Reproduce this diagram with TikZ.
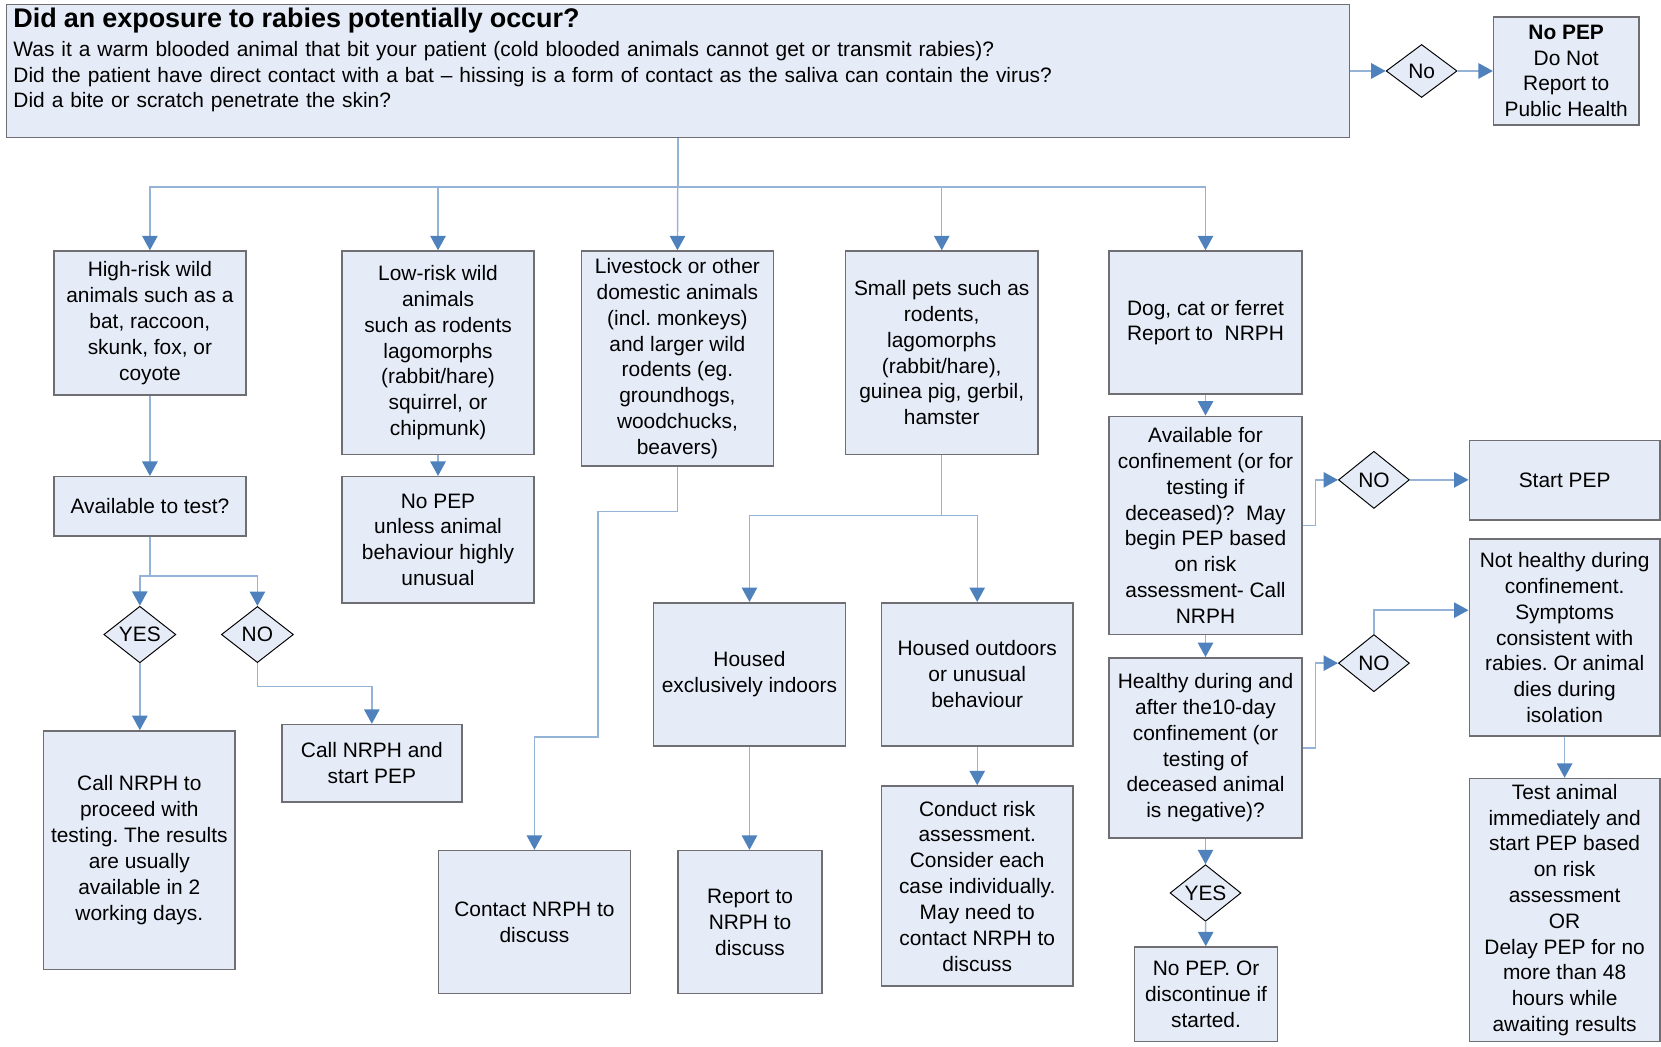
\documentclass[tikz,border=0pt]{standalone}
\usepackage{fontspec}
\setmainfont{Liberation Sans}
\frenchspacing
\usetikzlibrary{shapes.geometric, arrows.meta}
\definecolor{boxfill}{RGB}{230,236,247}
\definecolor{boxline}{RGB}{110,110,115}
\definecolor{linkblue}{RGB}{149,179,215}
\definecolor{tipblue}{RGB}{79,129,189}
\tikzstyle{block} = [rectangle, draw=boxline, line width=0.8pt, fill=boxfill, align=center, inner sep=2pt]
\tikzstyle{decision} = [diamond, draw=black, line width=0.5pt, fill=boxfill, inner sep=0pt, align=center]
\tikzstyle{arrow} = [draw=linkblue, line width=0.75pt, -{Triangle[length=7.5pt,width=8pt,color=tipblue]}]
\tikzset{wh/.style 2 args={minimum width=#1*0.55pt, minimum height=#2*0.55pt}}

\begin{document}
\begin{tikzpicture}
[x=0.55pt, y=-0.55pt, font=\fontsize{10.85pt}{13.4pt}\selectfont]
\useasboundingbox (0,0) rectangle (1568,988);

% question at the top
\node (exposure) [block, wh={1268}{124}, align=left, text width=690pt] at (640,67)
  {{\fontsize{14pt}{16pt}\selectfont\bfseries Did an exposure to rabies potentially occur?}\\[1.5pt]
   Was it a warm blooded animal that bit your patient (cold blooded animals cannot get or transmit rabies)?\\
   Did the patient have direct contact with a bat -- hissing is a form of contact as the saliva can contain the virus?\\
   Did a bite or scratch penetrate the skin?\\ ~};
\node (no) [decision, wh={67}{50}] at (1342,67) {No};
\node (nopep) [block, wh={137}{102}] at (1478.5,67) {\textbf{No PEP}\\Do Not\\Report to\\Public Health};

% animal groups
\node (highrisk) [block, wh={181}{136}] at (141.5,305) {High-risk wild\\animals such as a\\bat, raccoon,\\skunk, fox, or\\coyote};
\node (lowrisk) [block, wh={181}{192}] at (413.5,333) {Low-risk wild\\animals\\such as rodents\\lagomorphs\\(rabbit/hare)\\squirrel, or\\chipmunk)};
\node (livestock) [block, wh={181}{203}] at (639.5,338.5) {Livestock or other\\domestic animals\\(incl. monkeys)\\and larger wild\\rodents (eg.\\groundhogs,\\woodchucks,\\beavers)};
\node (pets) [block, wh={182}{192}] at (889,333) {Small pets such as\\rodents,\\lagomorphs\\(rabbit/hare),\\guinea pig, gerbil,\\hamster};
\node (dog) [block, wh={182}{135}] at (1138,304.5) {Dog, cat or ferret\\Report to\ \ NRPH};

% high-risk branch
\node (test) [block, wh={181}{56}] at (141.5,478) {Available to test?};
\node (yes) [decision, wh={68}{53}] at (132,599) {YES};
\node (notest) [decision, wh={68}{53}] at (243,599) {NO};
\node (proceed) [block, wh={181}{225}] at (131.5,802.5) {Call NRPH to\\proceed with\\testing. The results\\are usually\\available in 2\\working days.};
\node (callpep) [block, wh={170}{73}] at (351,720.5) {Call NRPH and\\start PEP};

% low-risk and livestock
\node (unusual) [block, wh={181}{119}] at (413.5,509.5) {No PEP\\unless animal\\behaviour highly\\unusual};
\node (contact) [block, wh={181}{135}] at (504.5,870.5) {Contact NRPH to\\discuss};

% small pets
\node (indoors) [block, wh={181}{135}] at (707.5,636.5) {Housed\\exclusively indoors};
\node (outdoors) [block, wh={181}{135}] at (922.5,636.5) {Housed outdoors\\or unusual\\behaviour};
\node (report) [block, wh={136}{135}] at (708,870.5) {Report to\\NRPH to\\discuss};
\node (risk) [block, wh={181}{189}] at (922.5,836.5) {Conduct risk\\assessment.\\Consider each\\case individually.\\May need to\\contact NRPH to\\discuss};

% dog, cat or ferret
\node (confine) [block, wh={182}{206}] at (1138,496) {Available for\\confinement (or for\\testing if\\deceased)?\ \ May\\begin PEP based\\on risk\\assessment- Call\\NRPH};
\node (healthy) [block, wh={182}{170}] at (1138,706) {Healthy during and\\after the10-day\\confinement (or\\testing of\\deceased animal\\is negative)?};
\node (noconf) [decision, wh={67}{54}] at (1297,453) {NO};
\node (startpep) [block, wh={180}{75}] at (1477,453.5) {Start PEP};
\node (nohealthy) [decision, wh={67}{54}] at (1297,626) {NO};
\node (sick) [block, wh={180}{186}] at (1477,602) {Not healthy during\\confinement.\\Symptoms\\consistent with\\rabies. Or animal\\dies during\\isolation};
\node (testnow) [block, wh={180}{248}] at (1477,859) {Test animal\\immediately and\\start PEP based\\on risk\\assessment\\OR\\Delay PEP for no\\more than 48\\hours while\\awaiting results};
\node (yeshealthy) [decision, wh={67}{52}] at (1138,843) {YES};
\node (discont) [block, wh={135}{89}] at (1138.5,938.5) {No PEP. Or\\discontinue if\\started.};

\draw [arrow] (exposure) -- (no);
\draw [arrow] (no) -- (nopep);
\draw [arrow] (exposure.south) -- ++(0,46) -| (highrisk.north);
\draw [arrow] (exposure.south) -- ++(0,46) -| (lowrisk.north);
\draw [arrow] (exposure.south) -- (livestock.north);
\draw [arrow] (exposure.south) -- ++(0,46) -| (pets.north);
\draw [arrow] (exposure.south) -- ++(0,46) -| (dog.north);

\draw [arrow] (highrisk) -- (test);
\draw [arrow] (test.south) -- ++(0,37) -| (yes.north);
\draw [arrow] (test.south) -- ++(0,37) -| (notest.north);
\draw [arrow] (yes) -- (yes |- proceed.north);
\draw [arrow] (notest.south) -- ++(0,22) -| (callpep.north);

\draw [arrow] (lowrisk) -- (unusual);
\draw [arrow] (livestock.south) -- ++(0,42) -- ++(-75,0) -- ++(0,213) -| (contact.north);

\draw [arrow] (pets.south) -- ++(0,57) -| (indoors.north);
\draw [arrow] (pets.south) -- ++(0,57) -| (outdoors.north);
\draw [arrow] (indoors) -- (indoors |- report.north);
\draw [arrow] (outdoors) -- (risk);

\draw [arrow] (dog) -- (confine);
\draw [arrow] (confine) -- (healthy);
\draw [arrow] (confine.east) -- ++(12,0) |- (noconf.west);
\draw [arrow] (noconf) -- (noconf -| startpep.west);
\draw [arrow] (healthy.east) -- ++(12,0) |- (nohealthy.west);
\draw [arrow] (nohealthy.north) |- ([yshift=14.3pt]sick.west);
\draw [arrow] (sick) -- (testnow);
\draw [arrow] (healthy) -- (yeshealthy);
\draw [arrow] (yeshealthy) -- (discont);

\end{tikzpicture}
\end{document}
